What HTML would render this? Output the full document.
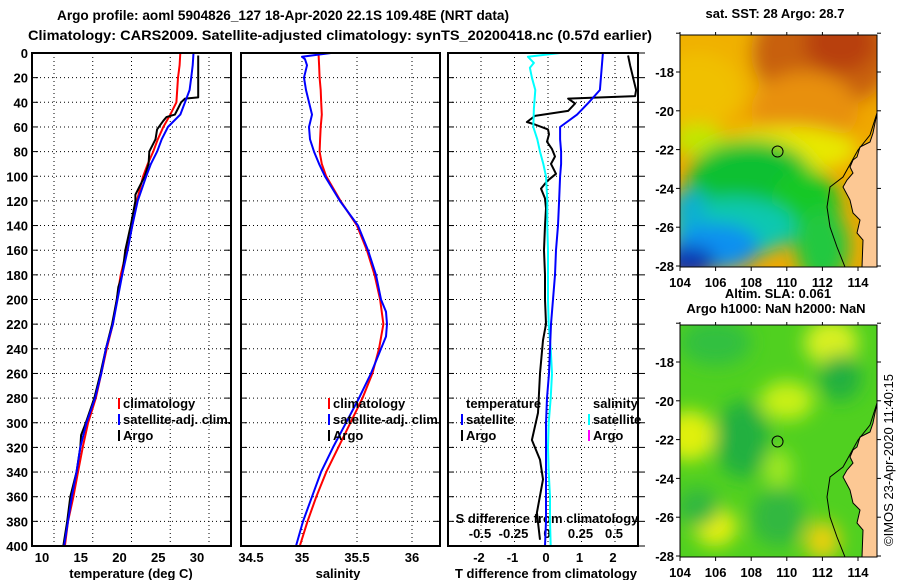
<!DOCTYPE html>
<html><head><meta charset="utf-8"><style>
html,body{margin:0;padding:0;background:#fff;}
svg{display:block;font-family:"Liberation Sans",Arial,sans-serif;font-weight:bold;}
</style></head><body>
<svg id="chart" width="900" height="580" viewBox="0 0 900 580" xmlns="http://www.w3.org/2000/svg">
<defs>
<filter id="blur1" x="-20%" y="-20%" width="140%" height="140%"><feGaussianBlur stdDeviation="9"/></filter>
<clipPath id="clipTop"><rect x="680" y="35" width="197" height="232"/></clipPath>
<clipPath id="clipBot"><rect x="680" y="325" width="197" height="232"/></clipPath>
</defs>
<text x="57" y="20" font-size="13.5" textLength="452" lengthAdjust="spacingAndGlyphs">Argo profile: aoml 5904826_127 18-Apr-2020 22.1S 109.48E (NRT data)</text>
<text x="28" y="40" font-size="13.5" textLength="624" lengthAdjust="spacingAndGlyphs">Climatology: CARS2009. Satellite-adjusted climatology: synTS_20200418.nc (0.57d earlier)</text>
<g id="panels"></g>
<g id="maps"></g>
</svg>
<script>
// ---- data ----
const stdDepths=[0,10,20,30,40,50,60,70,80,90,100,120,140,160,180,200,220,240,260,280,300,320,340,360,380,400];
const climT=[26.3,26.2,26.0,25.9,25.8,25.0,24.1,23.4,22.8,22.1,21.5,20.7,20.1,19.4,18.6,18.1,17.6,16.8,16.1,15.4,14.4,13.7,13.1,12.5,11.8,11.4];
const satT=[28.0,27.9,27.7,27.5,26.9,26.3,24.7,23.9,23.3,22.5,21.9,20.8,20.1,19.5,18.8,18.2,17.6,16.7,16.1,15.3,14.2,13.4,12.9,12.3,11.8,11.3];
const argoDepths=[2,10,20,30,36,37,40,45,50,52,55,62,70,80,90,100,115,120,140,160,180,190,200,220,240,260,280,300,310,320,340,360,380,400];
const argoT=[28.6,28.6,28.6,28.6,28.6,26.9,26.4,26.0,25.6,24.5,24.1,23.3,23.1,22.3,22.2,21.7,20.5,20.5,19.9,19.2,18.8,18.3,18.1,17.5,16.7,16.0,15.2,14.1,13.5,13.4,12.9,12.1,11.7,11.2];
const climS=[35.15,35.155,35.16,35.17,35.175,35.18,35.17,35.165,35.16,35.18,35.22,35.35,35.5,35.59,35.66,35.71,35.74,35.70,35.64,35.55,35.44,35.33,35.22,35.13,35.05,34.98];
const satSDepths=[0,3,5,10,20,30,40,50,60,70,80,90,100,120,140,160,180,200,210,220,230,240,260,280,300,320,340,360,380,400];
const satS=[35.264,35.0,35.027,35.045,35.018,35.036,35.064,35.091,35.064,35.073,35.109,35.155,35.209,35.345,35.509,35.6,35.673,35.718,35.764,35.773,35.764,35.718,35.627,35.518,35.4,35.282,35.173,35.091,35.009,34.945];
const satTdiff=[1.64,1.61,1.58,1.55,1.22,0.87,0.36,0.36,0.39,0.39,0.36,0.33,0.30,0.24,0.21,0.15,0.09,0.06,0.03,-0.03,-0.06,-0.06,-0.06,-0.06,-0.06,-0.09];
const argoTdiffDepths=[2,10,30,35,37,41,47,51,56,58,62,66,72,78,84,90,98,104,110,118,126,140,160,180,200,220,233,260,292,314,330,346,373,395];
const argoTdiff=[2.39,2.45,2.63,2.6,0.6,0.81,0.6,-0.39,-0.63,-0.39,0,0.03,-0.03,0.12,0.21,0.09,0.24,-0.03,-0.21,-0.09,-0.06,-0.09,-0.12,-0.09,-0.09,-0.06,-0.15,-0.24,-0.3,-0.48,-0.24,-0.15,-0.33,-0.24];
const satSdiffDepths=[0,3,8,12,20,30,45,60,70,80,90,100,120,140,160,180,200,220,240,260,280,300,320,340,360,380,400];
const satSdiff=[0.09,-0.15,-0.105,-0.135,-0.12,-0.095,-0.105,-0.11,-0.08,-0.06,-0.035,-0.015,-0.005,-0.005,0,0,0,0.005,0.02,0.03,0.02,0.005,0,0.005,0.015,0.015,0.02];
const depthTicks=[0,20,40,60,80,100,120,140,160,180,200,220,240,260,280,300,320,340,360,380,400];
const tTicks=[10,15,20,25,30];
const sTicks=[34.5,35,35.5,36];
const dtTicks=[-2,-1,0,1,2];
const dsTickLabels=["-0.5","-0.25","0","0.25","0.5"];
const dsTicks=[-0.5,-0.25,0,0.25,0.5];
const lonTicks=[104,106,108,110,112,114];
const latTicks=[-16,-18,-20,-22,-24,-26,-28];
const argoLon=109.48, argoLat=-22.1;

// ---- scales ----
const TOP=53, BOT=546;
const yD=d=>TOP+d*(BOT-TOP)/400;
const xT=t=>54+(t-10)*7.75;
const xS=s=>302+(s-35)*110;
const xDT=v=>548+v*33.5;
const xDS=v=>548+v*134;
const NS="http://www.w3.org/2000/svg";
function mk(tag,attrs,parent,text){const e=document.createElementNS(NS,tag);for(const k in attrs)e.setAttribute(k,attrs[k]);if(text!==undefined)e.textContent=text;parent.appendChild(e);return e;}
const P=document.getElementById('panels');

const panels=[{x0:32,x1:231,name:'temperature-panel'},{x0:241,x1:440,name:'salinity-panel'},{x0:448,x1:638,name:'difference-panel'}];
panels.forEach(p=>{
  const g=mk('g',{},P);
  
  
  depthTicks.forEach(d=>{ if(d>0&&d<400){const l=mk('line',{x1:p.x0,x2:p.x1,y1:yD(d),y2:yD(d),stroke:'#000','stroke-width':1,'stroke-dasharray':'1,3'},g);
    }
    mk('line',{x1:p.x0,x2:p.x0+6,y1:yD(d),y2:yD(d),stroke:'#000','stroke-width':1},g);
    mk('line',{x1:p.x1,x2:p.x1-6,y1:yD(d),y2:yD(d),stroke:'#000','stroke-width':1},g);
  });
});
function vgrid(vals,f,name){vals.forEach(v=>{const l=mk('line',{x1:f(v),x2:f(v),y1:TOP,y2:BOT,stroke:'#000','stroke-width':1,'stroke-dasharray':'1,3'},P);
  });}
vgrid(tTicks,xT,'temperature-gridline');
vgrid(sTicks.filter(s=>s>34.5),xS,'salinity-gridline');
vgrid(dtTicks,xDT,'t-diff-gridline');
depthTicks.forEach(d=>mk('line',{x1:639,x2:645,y1:yD(d),y2:yD(d),stroke:'#000','stroke-width':1},P));
depthTicks.forEach(d=>{const t=mk('text',{x:28,y:yD(d)+5,'font-size':13,'text-anchor':'end'},P,String(d));
  });
tTicks.forEach(v=>{const t=mk('text',{x:xT(v)-12,y:562,'font-size':13,'text-anchor':'middle'},P,String(v));});
sTicks.forEach(v=>{const t=mk('text',{x:xS(v)+(v===34.5?4:0),y:562,'font-size':13,'text-anchor':'middle'},P,String(v));});
dtTicks.forEach(v=>{const t=mk('text',{x:xDT(v)-2,y:562,'font-size':13,'text-anchor':'middle'},P,String(v));});
dsTicks.forEach((v,i)=>{const t=mk('text',{x:xDS(v)-1,y:538,'font-size':13,'text-anchor':'middle'},P,dsTickLabels[i]);});
[['temperature (deg C)',131,'temperature-axis-title'],['salinity',338,'salinity-axis-title'],['T difference from climatology',546,'t-diff-axis-title']].forEach(a=>{
  const t=mk('text',{x:a[1],y:578,'font-size':13,'text-anchor':'middle'},P,a[0]);});
{const t=mk('text',{x:547,y:523,'font-size':13,'text-anchor':'middle'},P,'S difference from climatology');}

function series(depths,vals,fx,color,name){
  const pts=depths.map((d,i)=>fx(vals[i]).toFixed(1)+','+yD(d).toFixed(1)).join(' ');
  const l=mk('polyline',{points:pts,fill:'none',stroke:color,'stroke-width':2,'stroke-linejoin':'round'},P);
  
}
series(stdDepths,climT,xT,'#ff0000','climatology-temperature-line');
series(argoDepths,argoT,xT,'#000','argo-temperature-line');
series(stdDepths,satT,xT,'#0000ff','satellite-temperature-line');
series(stdDepths,climS,xS,'#ff0000','climatology-salinity-line');
series(satSDepths,satS,xS,'#0000ff','satellite-salinity-line');
series(argoTdiffDepths,argoTdiff,xDT,'#000','argo-t-diff-line');
series(satSdiffDepths,satSdiff,xDS,'#00ffff','satellite-s-diff-line');
series(stdDepths,satTdiff,xDT,'#0000ff','satellite-t-diff-line');

panels.forEach(p=>{const r=mk('rect',{x:p.x0,y:TOP,width:p.x1-p.x0,height:BOT-TOP,fill:'none',stroke:'#000','stroke-width':2},P);
  });

function legend(x,y,color,label,name){
  if(color){const m=mk('rect',{x:x-2,y:y-10,width:2,height:11,fill:color},P);}
  const t=mk('text',{x:x+3,y:y,'font-size':13},P,label);
}
[[120,'t'],[330,'s']].forEach(([lx,k])=>{
  legend(lx,408,'#ff0000','climatology','legend-'+k+'-climatology');
  legend(lx,424,'#0000ff','satellite-adj. clim.','legend-'+k+'-satellite');
  legend(lx,440,'#000','Argo','legend-'+k+'-argo');
});
legend(463,408,null,'temperature','legend-diff-temperature-heading');
legend(463,424,'#0000ff','satellite','legend-diff-t-satellite');
legend(463,440,'#000','Argo','legend-diff-t-argo');
legend(590,408,null,'salinity','legend-diff-salinity-heading');
legend(590,424,'#00ffff','satellite','legend-diff-s-satellite');
legend(590,440,'#ff00ff','Argo','legend-diff-s-argo');

// ---- maps ----
const M=document.getElementById('maps');
const mx=lon=>680+(lon-104)*17.8;
const myT=lat=>72+(-18-lat)*19.4;
const coast=[[877,113],[873,133],[870,142],[860,147],[857,157],[853,160],[850,167],[853,173],[847,180],[843,187],[850,200],[853,213],[860,220],[857,233],[863,240],[862,267]];
const iso=[[877,113],[870,135],[858,150],[848,168],[843,177],[830,187],[827,207],[830,227],[837,247],[845,267]];
function drawMap(off,clip,blobs,base,name){
  const g=mk('g',{'clip-path':'url(#'+clip+')'},M);
  
  mk('rect',{x:680,y:35+off,width:197,height:232,fill:base},g);
  const bg=mk('g',{filter:'url(#blur1)'},g);
  blobs.forEach(b=>mk('ellipse',{cx:mx(b[0]),cy:myT(b[1])+off,rx:b[2]*17.8,ry:b[3]*19.4,fill:b[4]},bg));
  const land=coast.map(p=>p[0]+','+(p[1]+off)).join(' ')+' 880,'+(267+off)+' 880,'+(113+off);
  const lp=mk('polygon',{points:land,fill:'#fcc894',stroke:'#000','stroke-width':1},g);
  
  mk('polyline',{points:iso.map(p=>p[0]+','+(p[1]+off)).join(' '),fill:'none',stroke:'#000','stroke-width':1},g);
  mk('rect',{x:680,y:35+off,width:197,height:232,fill:'none',stroke:'#000','stroke-width':1},M);
  const c=mk('circle',{cx:mx(argoLon),cy:myT(argoLat)+off,r:5.5,fill:'none',stroke:'#000','stroke-width':1},M);
  
  lonTicks.forEach(v=>{mk('line',{x1:mx(v),x2:mx(v),y1:32+off,y2:35+off,stroke:'#000'},M);mk('line',{x1:mx(v),x2:mx(v),y1:267+off,y2:271+off,stroke:'#000'},M);
    const t=mk('text',{x:mx(v),y:287+off,'font-size':13,'text-anchor':'middle'},M,String(v));});
  latTicks.forEach(v=>{mk('line',{x1:676,x2:680,y1:myT(v)+off,y2:myT(v)+off,stroke:'#000'},M);mk('line',{x1:877,x2:881,y1:myT(v)+off,y2:myT(v)+off,stroke:'#000'},M);
    if(v<-16){const t=mk('text',{x:674,y:myT(v)+off+5,'font-size':13,'text-anchor':'end'},M,String(v));}});
}
drawMap(0,'clipTop',[
 [107,-17,5,3,'#f0b000'],[112,-17,4,3,'#c86010'],[113,-16.5,2,1.5,'#b84008'],[111,-20,3,2,'#e89010'],[105,-19,2.5,2,'#f0c000'],
 [110,-22,4,1.2,'#e8e800'],[105,-21.5,1.5,0.8,'#c0e800'],[108,-23.5,3.5,2,'#10c030'],[111,-25,2,2,'#18c828'],[112,-27,1.5,2,'#20c840'],
 [107,-26,3.5,1.5,'#10c8b0'],[106,-27,2.5,1.2,'#1090f0'],[104.5,-27.8,1.5,0.8,'#0830b0'],[104.5,-25,1,1,'#10b0d0']
],'#f0a800','top-sst-map');
drawMap(290,'clipBot',[
 [104.5,-21.8,1.5,1.3,'#e0f010'],[106,-26.5,1.2,1,'#e8f010'],[112.5,-17,1.5,1.2,'#d8f020'],[112,-27.2,1,1,'#e8d010'],[110,-20,1.5,1,'#c8f018'],
 [107.5,-22,1.5,2,'#20b040'],[113,-18.8,1.2,1.2,'#20b040'],[109.5,-26,1.5,1.5,'#30b840'],[105,-25.5,1.2,1,'#30b840'],[106,-17,2,1.2,'#30c040'],[109.5,-23.5,0.8,1,'#a0e820']
],'#50d020','bottom-sla-map');
[['sat. SST: 28 Argo: 28.7',775,18,'sst-map-title'],['Altim. SLA: 0.061',778,298,'sla-label'],['Argo h1000: NaN h2000: NaN',776,313,'height-map-title']].forEach(a=>{
  const t=mk('text',{x:a[1],y:a[2],'font-size':13,'text-anchor':'middle'},M,a[0]);});
{const t=mk('text',{x:0,y:0,'font-size':13,'font-weight':'normal','text-anchor':'middle',transform:'translate(893,460) rotate(-90)'},M,'©IMOS 23-Apr-2020 11:40:15');
 }
</script>
</body></html>
